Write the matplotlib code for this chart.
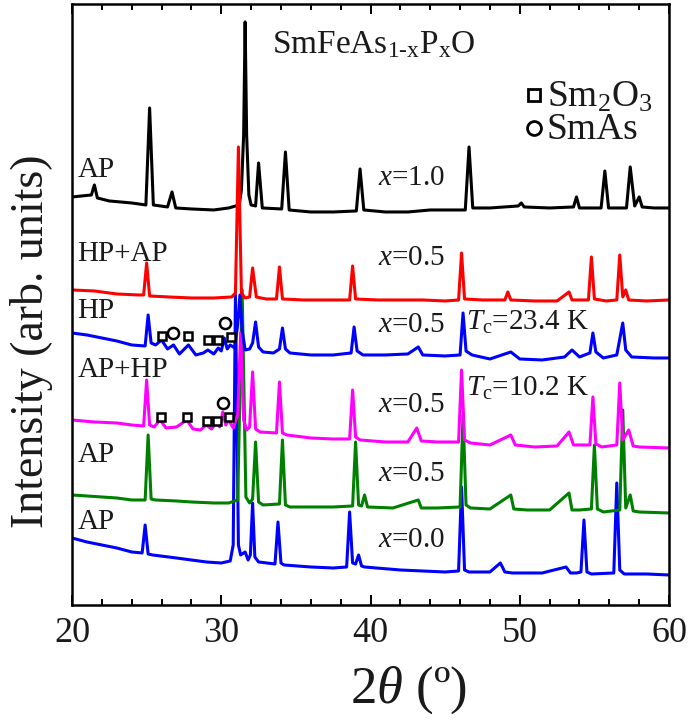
import numpy as np
from matplotlib import pyplot as plt

plt.rcParams['font.family'] = 'Liberation Serif'
plt.rcParams['mathtext.fontset'] = 'custom'
plt.rcParams['mathtext.rm'] = 'Liberation Serif'
plt.rcParams['mathtext.it'] = 'Liberation Serif:italic'
plt.rcParams['mathtext.bf'] = 'Liberation Serif:bold'

# (2theta, intensity) points, one list per pattern
pat_x10_ap = [(20.0, 408), (21.3, 410), (21.5, 420), (21.7, 407), (22.5, 404), (24.0, 402),
              (24.95, 400), (25.2, 497), (25.45, 400), (26.4, 398), (26.7, 413), (26.95, 397),
              (28.0, 396), (29.5, 395), (30.5, 397), (31.2, 400), (31.35, 415), (31.5, 470),
              (31.6, 583), (31.7, 470), (31.85, 410), (32.0, 400), (32.3, 399), (32.5, 442),
              (32.75, 397), (34.05, 396), (34.3, 453), (34.55, 395), (36.0, 393), (37.5, 393),
              (39.05, 394), (39.3, 436), (39.55, 395), (41.0, 393), (42.5, 393), (44.0, 395),
              (45.5, 395), (46.35, 395), (46.6, 458), (46.85, 397), (48.0, 397), (49.9, 399),
              (50.1, 402), (50.3, 398), (52.0, 397), (53.6, 398), (53.8, 408), (54.0, 397),
              (55.45, 397), (55.7, 434), (55.95, 397), (57.15, 397), (57.4, 438), (57.7, 399),
              (58.0, 408), (58.2, 398), (59.0, 397), (60.0, 397)]

pat_x05_hpap = [(20.0, 315), (21.5, 314), (23.0, 311), (24.5, 310), (24.8, 310), (25.0, 342),
                (25.2, 309), (26.5, 308), (28.0, 307), (29.5, 307), (30.7, 308), (30.95, 312),
                (31.15, 458), (31.35, 312), (31.6, 307), (31.9, 308), (32.1, 337), (32.35, 308),
                (33.0, 306), (33.7, 306), (33.9, 338), (34.1, 306), (35.5, 305), (37.0, 305),
                (38.6, 305), (38.8, 339), (39.0, 306), (40.5, 305), (42.0, 305), (43.5, 305),
                (45.0, 304), (45.9, 305), (46.1, 352), (46.3, 306), (47.5, 305), (49.0, 305),
                (49.2, 313), (49.4, 305), (51.0, 304), (52.5, 304), (53.3, 313), (53.5, 305),
                (54.6, 305), (54.8, 348), (55.0, 306), (55.8, 304), (56.5, 305), (56.7, 350),
                (56.9, 308), (57.1, 315), (57.3, 305), (58.5, 304), (60.0, 305)]

pat_x05_hp = [(20.0, 272), (21.0, 270), (22.0, 267), (23.0, 264), (24.0, 260), (24.9, 259),
              (25.1, 290), (25.3, 262), (25.6, 260), (26.0, 265), (26.4, 256), (26.8, 260),
              (27.2, 251), (27.8, 260), (28.3, 250), (28.8, 252), (29.1, 255), (29.5, 251),
              (29.8, 257), (30.0, 254), (30.2, 267), (30.4, 256), (30.6, 260), (30.9, 257),
              (31.1, 280), (31.25, 310), (31.4, 275), (31.6, 255), (31.9, 256), (32.1, 262),
              (32.3, 283), (32.5, 258), (32.8, 253), (33.5, 252), (33.9, 256), (34.1, 277),
              (34.3, 256), (34.6, 252), (36.0, 250), (37.5, 250), (38.7, 252), (38.9, 278),
              (39.1, 254), (39.5, 250), (41.0, 250), (42.5, 251), (43.2, 258), (43.5, 250),
              (45.0, 249), (46.0, 250), (46.2, 292), (46.4, 254), (46.8, 250), (48.0, 246),
              (49.4, 253), (50.0, 246), (51.5, 245), (53.0, 248), (53.5, 255), (54.0, 248),
              (54.7, 252), (54.9, 272), (55.1, 253), (55.6, 247), (56.5, 250), (56.9, 282),
              (57.1, 255), (57.5, 248), (59.0, 247), (60.0, 247)]

pat_x05_aphp = [(20.0, 185), (21.5, 183), (23.0, 182), (24.0, 180), (24.8, 179), (25.0, 225),
                (25.2, 180), (25.5, 178), (25.9, 185), (26.3, 177), (27.0, 178), (27.7, 185),
                (28.1, 176), (28.6, 175), (29.0, 180), (29.35, 176), (29.7, 183), (29.9, 178),
                (30.1, 193), (30.3, 180), (30.5, 185), (30.8, 177), (31.1, 190), (31.3, 272),
                (31.5, 185), (31.7, 175), (31.9, 178), (32.1, 233), (32.3, 176), (32.6, 173),
                (33.7, 172), (33.9, 223), (34.1, 172), (34.4, 170), (36.0, 167), (37.5, 166),
                (38.6, 166), (38.8, 215), (39.0, 168), (39.3, 165), (41.0, 163), (42.5, 163),
                (43.1, 177), (43.4, 164), (44.5, 163), (45.9, 163), (46.1, 235), (46.3, 165),
                (46.7, 162), (48.0, 160), (49.4, 170), (49.7, 160), (51.0, 158), (52.5, 159),
                (53.3, 173), (53.6, 160), (54.7, 160), (54.9, 208), (55.1, 161), (55.5, 158),
                (56.5, 160), (56.7, 222), (56.9, 165), (57.3, 175), (57.6, 159), (58.0, 158),
                (60.0, 157)]

pat_x05_ap = [(20.0, 110), (21.0, 109), (22.0, 108), (23.0, 107), (24.0, 105), (24.9, 105),
              (25.1, 170), (25.3, 106), (25.6, 105), (27.0, 104), (28.0, 103), (29.5, 102),
              (30.5, 102), (31.1, 105), (31.4, 315), (31.65, 108), (31.9, 102), (32.1, 106),
              (32.3, 163), (32.5, 103), (32.8, 100), (33.9, 101), (34.1, 165), (34.3, 100),
              (34.6, 98), (36.0, 98), (37.5, 98), (38.8, 99), (39.0, 163), (39.2, 100),
              (39.4, 99), (39.6, 110), (39.8, 98), (41.5, 97), (43.2, 105), (43.4, 97),
              (44.5, 97), (46.0, 98), (46.2, 190), (46.4, 100), (46.7, 97), (48.0, 96),
              (49.4, 110), (49.6, 96), (50.5, 95), (52.0, 95), (53.3, 112), (53.5, 95),
              (54.0, 95), (54.8, 96), (55.0, 160), (55.2, 96), (55.6, 93), (56.7, 95),
              (56.9, 195), (57.1, 97), (57.4, 110), (57.6, 94), (58.0, 93), (60.0, 92)]

pat_x00_ap = [(20.0, 67), (21.0, 63), (22.0, 60), (23.0, 57), (24.0, 53), (24.7, 52),
              (24.9, 80), (25.1, 51), (25.4, 50), (27.0, 47), (28.0, 45), (29.0, 43),
              (30.0, 42), (30.6, 44), (30.8, 60), (30.95, 310), (31.15, 60), (31.3, 50),
              (31.6, 53), (31.8, 45), (31.95, 50), (32.1, 102), (32.25, 48), (32.5, 43),
              (33.6, 41), (33.8, 83), (34.0, 42), (34.2, 40), (36.0, 38), (37.5, 37),
              (38.4, 38), (38.6, 93), (38.8, 42), (39.0, 41), (39.2, 50), (39.4, 39),
              (39.6, 38), (42.0, 35), (45.0, 33), (45.9, 34), (46.1, 118), (46.3, 35),
              (46.6, 33), (48.0, 33), (48.7, 42), (49.0, 33), (49.5, 32), (51.5, 32),
              (53.1, 38), (53.4, 32), (53.8, 32), (54.1, 33), (54.3, 85), (54.5, 33),
              (54.8, 31), (56.3, 32), (56.5, 122), (56.7, 35), (57.0, 31), (58.5, 31),
              (60.0, 30)]

# impurity marks (Sm2O3 squares, SmAs circles)
sq_hp = [(26.03, 269), (27.77, 269), (29.11, 265), (29.78, 265), (30.65, 268)]
ci_hp = [(26.77, 272), (30.25, 282)]
sq_aphp = [(25.96, 188), (27.70, 188), (29.05, 184), (29.72, 184), (30.52, 188)]
ci_aphp = [(30.12, 202)]

patterns = [pat_x10_ap, pat_x00_ap, pat_x05_ap, pat_x05_aphp, pat_x05_hp, pat_x05_hpap]
colors = ['black', '#0000ff', '#008000', '#ff00ff', '#0000ff', '#ff0000']

sample_labels = ['AP', 'HP+AP', 'HP', 'AP+HP', 'AP', 'AP']
sample_label_y = [435, 351, 294, 235, 150, 83]
x_labels = ['1.0', '0.5', '0.5', '0.5', '0.5', '0.0']
x_label_y = [427, 347, 280, 200, 131, 65]
tc_labels = ['23.4', '10.2']
tc_label_y = [283, 217]

txtc = '#1a1a1a'

fig = plt.figure(figsize=(6.93, 7.21), dpi=100)
ax = fig.add_axes([0.1039, 0.1609, 0.8615, 0.8336])

for pat, c in zip(patterns, colors):
    tt, inten = zip(*pat)
    ax.plot(tt, inten, '-', color=c, linewidth=2.2)

for pts in [sq_hp, sq_aphp]:
    xs, ys = zip(*pts)
    ax.plot(xs, ys, 's', ms=6, mfc='white', mec='black', mew=1.8, linestyle='none')
for pts in [ci_hp, ci_aphp]:
    xs, ys = zip(*pts)
    ax.plot(xs, ys, 'o', ms=8, mfc='white', mec='black', mew=1.8, linestyle='none')

for lab, y in zip(sample_labels, sample_label_y):
    ax.text(20.35, y, lab, fontsize=21, color=txtc, ha='left', va='center')
for lab, y in zip(x_labels, x_label_y):
    ax.text(40.5, y, '$x$=' + lab, fontsize=21, color=txtc, ha='left', va='center')
for lab, y in zip(tc_labels, tc_label_y):
    ax.text(46.4, y, '$T_{\\mathrm{c}}$=' + lab + ' K', fontsize=21, color=txtc,
            ha='left', va='center')

ax.text(33.4, 560, 'SmFeAs$_{\\mathrm{1\u2010x}}$P$_{\\mathrm{x}}$O', fontsize=24,
        color=txtc, ha='left', va='center')

# legend for impurity phases
ax.plot([50.95], [510], 's', ms=9, mfc='white', mec='black', mew=2)
ax.plot([50.95], [477], 'o', ms=10, mfc='white', mec='black', mew=2)
ax.text(51.8, 508, 'Sm$_2$O$_3$', fontsize=27, color=txtc, ha='left', va='center')
ax.text(51.8, 475, 'SmAs', fontsize=27, color=txtc, ha='left', va='center')

ax.set_xlim(20, 60)
ax.set_ylim(0, 601)
ax.set_xticks([20, 30, 40, 50, 60])
ax.set_xticks(np.arange(22, 60, 2), minor=True)
ax.set_yticks([])
ax.tick_params(axis='x', which='both', direction='in', top=True, width=1.4,
               labelsize=26, pad=9, labelcolor=txtc)
ax.tick_params(axis='x', which='major', length=7)
ax.tick_params(axis='x', which='minor', length=4)
for s in ax.spines.values():
    s.set_linewidth(1.8)

fig.text(0.589, 0.043, '2$\\theta$ (º)', fontsize=38, color=txtc, ha='center', va='center')
fig.text(0.046, 0.527, 'Intensity (arb. units)', fontsize=33, color=txtc,
         ha='center', va='center', rotation=90)

fig.savefig('out.png', dpi=100)
